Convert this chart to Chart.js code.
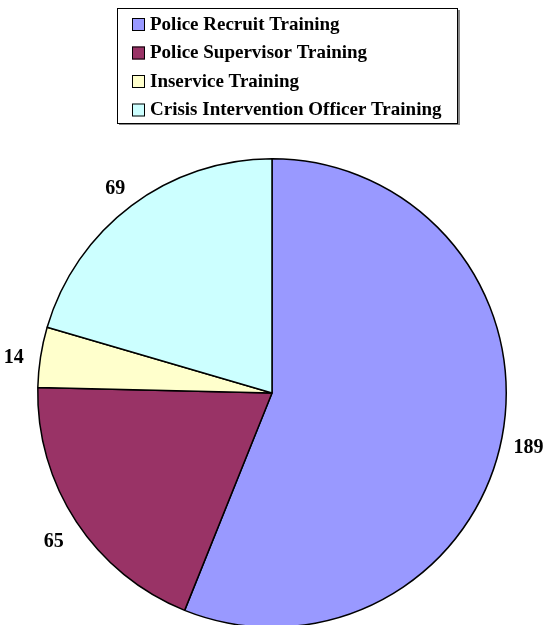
<!DOCTYPE html>
<html>
<head>
<meta charset="utf-8">
<script src="https://cdn.jsdelivr.net/npm/chart.js@4"></script>
<style>
  html, body { margin: 0; padding: 0; background: #fff; overflow: hidden; }
  .chart-wrap { position: relative; width: 546px; height: 640px; }
</style>
</head>
<body>
<div class="chart-wrap"><canvas id="chart"></canvas></div>
<script>
const categories = [
  'Police Recruit Training',
  'Police Supervisor Training',
  'Inservice Training',
  'Crisis Intervention Officer Training'
];
const trainees = [189, 65, 14, 69];
const sliceColors = ['#9999FF', '#993366', '#FFFFCC', '#CCFFFF'];

const FONT = '"Liberation Serif", "Times New Roman", serif';

// legend drawn as a boxed list, one entry per row
const boxedLegend = {
  id: 'boxedLegend',
  afterDraw(chart) {
    const ctx = chart.ctx;
    const left = 117, top = 8, right = 457, bottom = 123;
    ctx.save();
    ctx.fillStyle = '#888';
    ctx.fillRect(right + 1, top + 2, 2, bottom - top);
    ctx.fillRect(left + 2, bottom + 1, right - left, 1);
    ctx.strokeStyle = '#000';
    ctx.lineWidth = 1;
    ctx.strokeRect(left + 0.5, top + 0.5, right - left, bottom - top);

    ctx.font = 'bold 19px ' + FONT;
    ctx.textBaseline = 'middle';
    chart.data.labels.forEach((label, i) => {
      const y = 24 + i * 28.5;
      ctx.fillStyle = sliceColors[i];
      ctx.fillRect(132, y - 6, 13, 13);
      ctx.strokeStyle = '#000';
      ctx.strokeRect(132.5, y - 5.5, 12, 12);
      ctx.fillStyle = '#000';
      ctx.fillText(label, 150, y + 1);
    });
    ctx.restore();
  }
};

// value labels just outside the pie
const outsideLabels = {
  id: 'outsideLabels',
  afterDatasetsDraw(chart) {
    const ctx = chart.ctx;
    const meta = chart.getDatasetMeta(0);
    ctx.save();
    ctx.font = 'bold 20px ' + FONT;
    ctx.fillStyle = '#000';
    ctx.textAlign = 'center';
    ctx.textBaseline = 'middle';
    meta.data.forEach((arc, i) => {
      const p = arc.getProps(['x', 'y', 'startAngle', 'endAngle', 'outerRadius'], true);
      const mid = (p.startAngle + p.endAngle) / 2;
      const r = p.outerRadius + 27;
      ctx.fillText(String(chart.data.datasets[0].data[i]), p.x + Math.cos(mid) * r, p.y + Math.sin(mid) * r + 5);
    });
    ctx.restore();
  }
};

new Chart(document.getElementById('chart'), {
  type: 'pie',
  data: {
    labels: categories,
    datasets: [{
      data: trainees,
      backgroundColor: sliceColors,
      borderColor: '#000',
      borderWidth: 1.5
    }]
  },
  options: {
    responsive: true,
    maintainAspectRatio: false,
    animation: false,
    layout: { padding: { left: 37, right: 39, top: 158, bottom: 12 } },
    plugins: {
      legend: { display: false },
      tooltip: { enabled: false }
    }
  },
  plugins: [boxedLegend, outsideLabels]
});
</script>
</body>
</html>
